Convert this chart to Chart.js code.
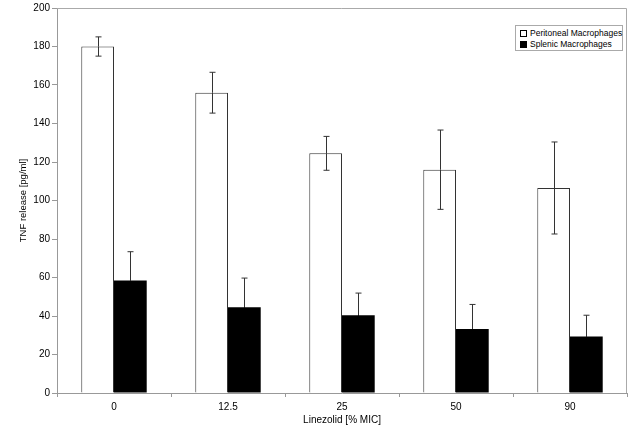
<!DOCTYPE html>
<html>
<head>
<meta charset="utf-8">
<script src="https://cdn.jsdelivr.net/npm/chart.js@4"></script>
<style>
  body { margin: 0; background: #fff; }
  #wrap { position: relative; width: 629px; height: 434px; }
  #legend {
    position: absolute; left: 515px; top: 25px; width: 106px; height: 24px;
    border: 1px solid #aaa; background: #fff;
    font: 8.5px "Liberation Sans", Arial, sans-serif; color: #000;
  }
  #legend div { position: absolute; left: 4px; white-space: nowrap; }
  #legend span { display: inline-block; width: 5px; height: 5px; border: 1px solid #000; margin-right: 3px; vertical-align: -1px; }
</style>
</head>
<body>
<div id="wrap">
  <canvas id="Graph" width="629" height="434"></canvas>
  <div id="legend">
    <div style="top:2px"><span style="background:#fff"></span>Peritoneal Macrophages</div>
    <div style="top:13px"><span style="background:#000"></span>Splenic Macrophages</div>
  </div>
</div>
<script>
// values
const categories = ['0', '12.5', '25', '50', '90'];
const peritoneal = [180, 156, 124.5, 116, 106.5];
const peritonealErr = [5, 10.6, 8.8, 20.6, 23.9];
const splenic = [58.4, 44.5, 40.4, 33.2, 29.4];
const splenicErr = [15, 15.2, 11.5, 12.8, 11];

const ctx = document.getElementById('Graph').getContext('2d');

// error bars + top/right frame
const extras = {
  id: 'extras',
  afterDatasetsDraw(chart) {
    const c = chart.ctx;
    const y = chart.scales.y;
    const errs = [peritonealErr, splenicErr];
    // lower half of the splenic bars sits on black, so it is not visible
    const lowColor = ['#333', '#000'];
    c.save();
    c.lineWidth = 1;
    chart.data.datasets.forEach((ds, i) => {
      chart.getDatasetMeta(i).data.forEach((bar, j) => {
        const x = Math.round(bar.x) + 0.5;
        const mid = y.getPixelForValue(ds.data[j]);
        const top = y.getPixelForValue(ds.data[j] + errs[i][j]);
        const bot = y.getPixelForValue(ds.data[j] - errs[i][j]);
        c.strokeStyle = '#333';
        c.beginPath();
        c.moveTo(x, top); c.lineTo(x, mid);
        c.moveTo(x - 3, top); c.lineTo(x + 3, top);
        c.stroke();
        c.strokeStyle = lowColor[i];
        c.beginPath();
        c.moveTo(x, mid); c.lineTo(x, bot);
        c.moveTo(x - 3, bot); c.lineTo(x + 3, bot);
        c.stroke();
      });
    });
    const a = chart.chartArea;
    c.strokeStyle = '#aaa';
    c.beginPath();
    c.moveTo(a.left, a.top + 0.5); c.lineTo(a.right - 0.5, a.top + 0.5); c.lineTo(a.right - 0.5, a.bottom);
    c.stroke();
    c.restore();
  }
};

new Chart(ctx, {
  type: 'bar',
  data: {
    labels: categories,
    datasets: [
      { label: 'Peritoneal Macrophages', data: peritoneal, backgroundColor: '#fff', borderColor: '#333', borderWidth: 1 },
      { label: 'Splenic Macrophages', data: splenic, backgroundColor: '#000', borderColor: '#000', borderWidth: 0 }
    ]
  },
  options: {
    responsive: false,
    animation: false,
    layout: { padding: { top: 3, right: 2 } },
    datasets: { bar: { categoryPercentage: 0.574, barPercentage: 1 } },
    plugins: { legend: { display: false }, tooltip: { enabled: false } },
    scales: {
      x: {
        afterFit(s) { s.height = 41; },
        grid: { drawOnChartArea: false, tickLength: 4, color: '#999' },
        border: { color: '#999' },
        ticks: { color: '#000', padding: 4, font: { family: 'Liberation Sans', size: 10 } },
        title: { display: true, text: 'Linezolid [% MIC]', color: '#000', padding: { top: 0, bottom: 8 }, font: { family: 'Liberation Sans', size: 10 } }
      },
      y: {
        min: 0, max: 200,
        afterFit(s) { s.width = 57; },
        grid: { drawOnChartArea: false, tickLength: 5, color: '#999' },
        border: { color: '#999' },
        ticks: { stepSize: 20, color: '#000', padding: 2, font: { family: 'Liberation Sans', size: 10 } },
        title: { display: true, text: 'TNF release [pg/ml]', color: '#000', padding: { top: 18, bottom: 0 }, font: { family: 'Liberation Sans', size: 9.5 } }
      }
    }
  },
  plugins: [extras]
});
</script>
</body>
</html>
